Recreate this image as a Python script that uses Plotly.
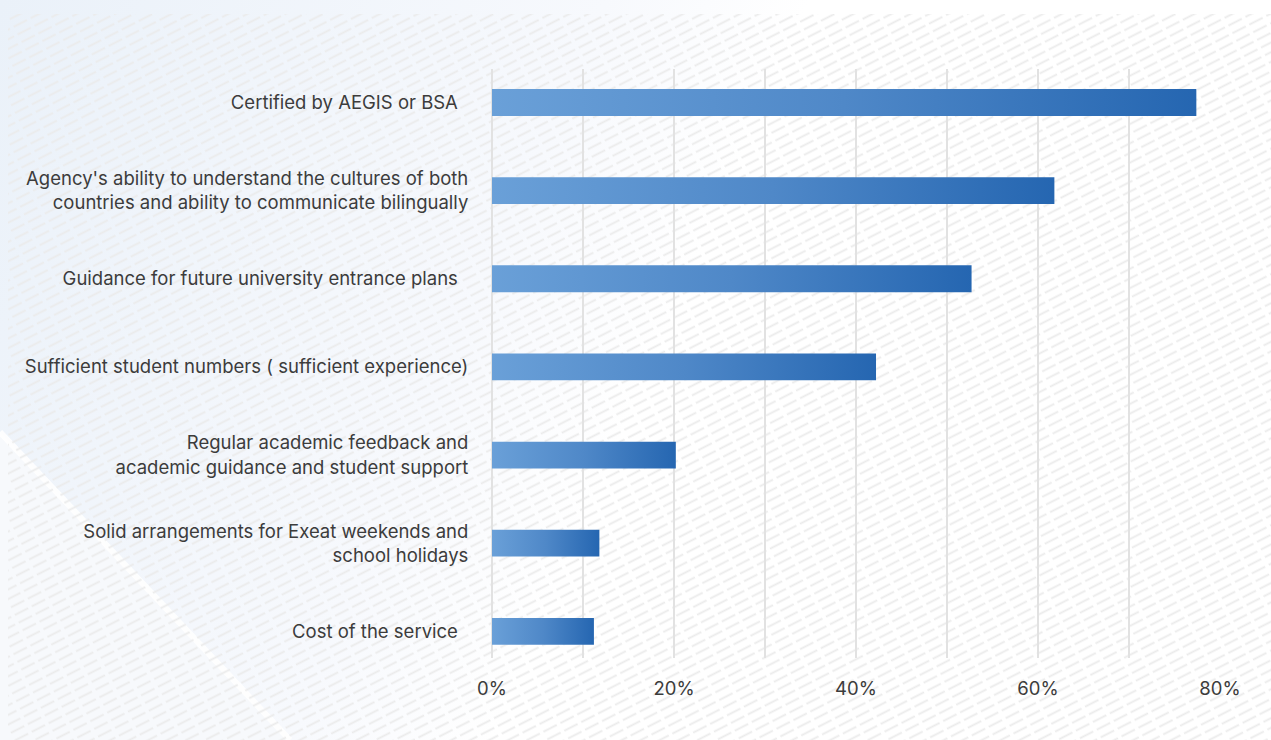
import base64
import plotly.graph_objects as go

# Survey: factors considered when choosing a guardianship agency
categories = [
    "Certified by AEGIS or BSA",
    "Agency's ability to understand the cultures of both<br>countries and ability to communicate bilingually",
    "Guidance for future university entrance plans",
    "Sufficient student numbers ( sufficient experience)",
    "Regular academic feedback and<br>academic guidance and student support",
    "Solid arrangements for Exeat weekends and<br>school holidays",
    "Cost of the service",
]
# single-line labels carry a trailing gap in the source layout
trailing_gap = [True, False, True, False, False, False, True]
shares = [77.4, 61.8, 52.7, 42.2, 20.2, 11.8, 11.2]

x_ticks = [0, 10, 20, 30, 40, 50, 60, 70, 80]
x_tick_text = ["0%", "", "20%", "", "40%", "", "60%", "", "80%"]

W, H = 1271, 740
ML, MR, MT, MB = 492, 51, 69, 82
BAR_HALF = 0.152
BAR_SCALE = [[0.0, "#6aa0d8"], [0.5, "#4f88c8"], [1.0, "#2566b1"]]

fig = go.Figure()

for i, (cat, v) in enumerate(zip(categories, shares)):
    fig.add_trace(
        go.Scatter(
            x=[0, v, v, 0, 0],
            y=[i - BAR_HALF, i - BAR_HALF, i + BAR_HALF, i + BAR_HALF, i - BAR_HALF],
            mode="lines",
            line=dict(width=0, color="rgba(0,0,0,0)"),
            fill="toself",
            fillgradient=dict(type="horizontal", colorscale=BAR_SCALE),
            name=cat.replace("<br>", " "),
            hovertemplate=f"{cat.replace('<br>', ' ')}: {v}%<extra></extra>",
            showlegend=False,
        )
    )

# Page backdrop: soft blue wash on the left, pale corner wedge and diagonal dash hatching
svg = f"""<svg xmlns='http://www.w3.org/2000/svg' width='{W}' height='{H}' viewBox='0 0 {W} {H}'>
<defs>
<linearGradient id='wash' x1='0' y1='0' x2='1' y2='0.25'>
<stop offset='0' stop-color='#eaf1f9'/>
<stop offset='0.45' stop-color='#f7f9fd'/>
<stop offset='0.6' stop-color='#ffffff'/>
<stop offset='1' stop-color='#ffffff'/>
</linearGradient>
<pattern id='hatch' width='19' height='8.6' patternUnits='userSpaceOnUse' patternTransform='rotate(-27)'>
<line x1='0' y1='4.3' x2='15' y2='4.3' stroke='#ebebeb' stroke-width='1.8'/>
</pattern>
</defs>
<rect width='{W}' height='{H}' fill='url(#wash)'/>
<polygon points='0,432 0,{H} 290,{H}' fill='#f7f9fc'/>
<line x1='0' y1='432' x2='290' y2='{H}' stroke='#ffffff' stroke-width='6' opacity='0.9'/>
<rect x='8' y='14' width='{W - 8}' height='{H - 14}' fill='url(#hatch)'/>
</svg>"""
src = "data:image/svg+xml;base64," + base64.b64encode(svg.encode()).decode()

pw = W - ML - MR
ph = H - MT - MB
fig.add_layout_image(
    dict(
        source=src,
        xref="paper",
        yref="paper",
        x=-ML / pw,
        y=1 + MT / ph,
        sizex=W / pw,
        sizey=H / ph,
        xanchor="left",
        yanchor="top",
        sizing="stretch",
        layer="below",
    )
)

tick_labels = [c + ("\u00a0\u00a0" if g else "") for c, g in zip(categories, trailing_gap)]

fig.update_layout(
    width=W,
    height=H,
    margin=dict(l=ML, r=MR, t=MT, b=MB, pad=0),
    paper_bgcolor="rgba(0,0,0,0)",
    plot_bgcolor="rgba(0,0,0,0)",
    font=dict(family="Inter, Roboto, sans-serif", size=18.5, color="#3c3c3c"),
    xaxis=dict(
        range=[0, 80],
        tickmode="array",
        tickvals=x_ticks,
        ticktext=x_tick_text,
        showgrid=True,
        gridcolor="#e2e2e2",
        gridwidth=1.5,
        zeroline=True,
        zerolinecolor="#e2e2e2",
        zerolinewidth=1.5,
        showline=False,
        ticks="outside",
        ticklen=14,
        tickcolor="rgba(0,0,0,0)",
        fixedrange=True,
    ),
    yaxis=dict(
        range=[6.303, -0.380],
        tickmode="array",
        tickvals=list(range(len(categories))),
        ticktext=tick_labels,
        showgrid=False,
        zeroline=False,
        showline=False,
        ticks="outside",
        ticklen=19,
        tickcolor="rgba(0,0,0,0)",
        fixedrange=True,
    ),
)

fig.write_html("out.html")
